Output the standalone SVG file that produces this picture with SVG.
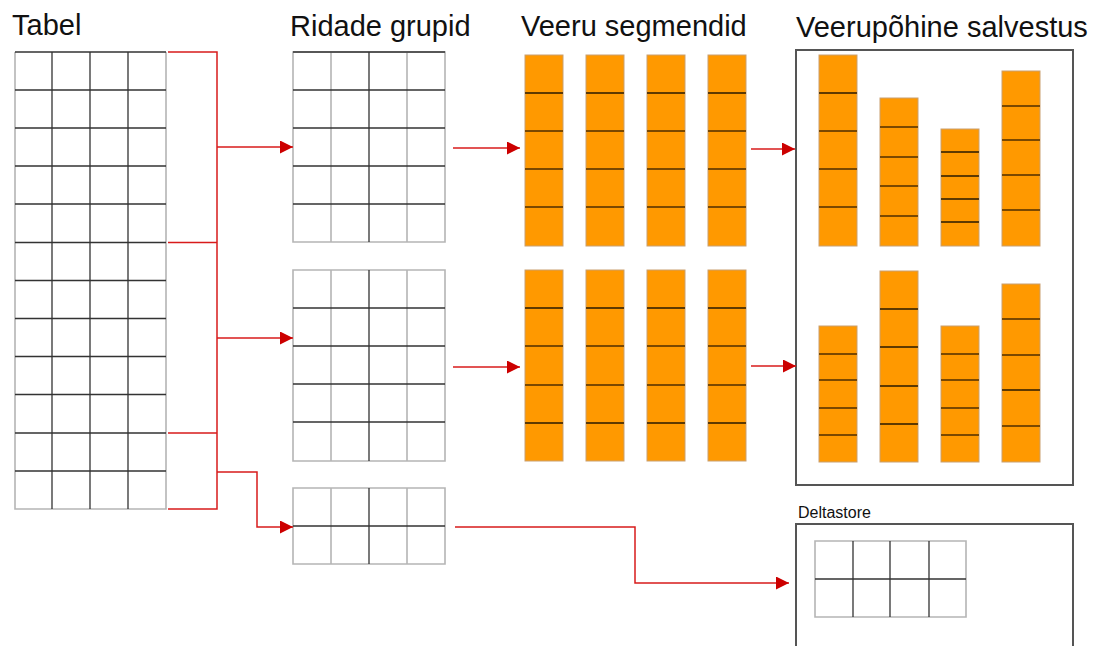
<svg xmlns="http://www.w3.org/2000/svg" width="1094" height="646" viewBox="0 0 1094 646">
  <style>
    .title { font-family: "Liberation Sans", Arial, sans-serif; font-size: 29px; fill: #111; }
    .small { font-family: "Liberation Sans", Arial, sans-serif; font-size: 16px; fill: #111; }
    .grid { fill: none; stroke: #333; stroke-width: 1.3; }
    .lite { fill: none; stroke: #b5b5b5; stroke-width: 1.6; }
    .seg { fill: #ff9900; stroke: #c9a070; stroke-width: 1; }
    .dv { stroke: #7a4800; stroke-width: 2.2; }
    .dk { stroke: #2a1a00; stroke-width: 1.7; }
    .box { fill: none; stroke: #555; stroke-width: 2; }
    .red { fill: none; stroke: #d81b1b; stroke-width: 1.5; }
    .arr { fill: none; stroke: #d81b1b; stroke-width: 1.5; marker-end: url(#head); }
  </style>
  <defs>
    <marker id="head" markerUnits="userSpaceOnUse" markerWidth="13" markerHeight="13" viewBox="0 0 13 13" refX="13" refY="6.5" orient="auto">
      <path d="M0,0 L13,6.5 L0,13 z" fill="#cc0000"/>
    </marker>
  </defs>

  <rect width="1094" height="646" fill="#ffffff"/>

  <!-- headings -->
  <text class="title" x="12" y="35">Tabel</text>
  <text class="title" x="290" y="36">Ridade grupid</text>
  <text class="title" x="521" y="36">Veeru segmendid</text>
  <text class="title" x="796" y="37">Veerupõhine salvestus</text>

  <!-- source table: 4 columns x 12 rows -->
  <g id="tabel">
    <path class="lite" d="M15,52 V509 H166 V52"/>
    <path class="grid" d="M52,52 V509 M90,52 V509 M128,52 V509"/>
    <path class="grid" d="M15,52 H166 M15,90 H166 M15,128 H166 M15,166 H166 M15,204 H166 M15,242.5 H166 M15,280.5 H166 M15,318.5 H166 M15,356.5 H166 M15,394.5 H166 M15,433 H166 M15,471 H166"/>
  </g>

  <!-- row group 1 -->
  <g id="rowgroup1">
    <path class="lite" d="M293,52 H445 V242 H293 Z M331,52 V242 M407,52 V242"/>
    <path class="grid" d="M369,52 V242 M293,52 H445 M293,90 H445 M293,128 H445 M293,166 H445 M293,204 H445"/>
  </g>

  <!-- row group 2 -->
  <g id="rowgroup2">
    <path class="lite" d="M293,270 H445 V461 H293 Z M331,270 V461 M407,270 V461"/>
    <path class="grid" d="M369,270 V461 M293,308 H445 M293,346 H445 M293,384 H445 M293,422 H445"/>
  </g>

  <!-- row group 3 (partial) -->
  <g id="rowgroup3">
    <path class="lite" d="M293,488 H445 V564 H293 Z M331,488 V564 M407,488 V564"/>
    <path class="grid" d="M369,488 V564 M293,526 H445"/>
  </g>

  <!-- column segments of row group 1 -->
  <g id="segments1">
    <rect class="seg" x="525" y="55" width="38" height="191"/>
    <rect class="seg" x="586" y="55" width="38" height="191"/>
    <rect class="seg" x="647" y="55" width="38" height="191"/>
    <rect class="seg" x="708" y="55" width="38" height="191"/>
    <path class="dk" d="M525,93 H563 M586,93 H624 M647,93 H685 M708,93 H746"/>
    <path class="dv" d="M525,131 H563 M586,131 H624 M647,131 H685 M708,131 H746 M525,169 H563 M586,169 H624 M647,169 H685 M708,169 H746 M525,207 H563 M586,207 H624 M647,207 H685 M708,207 H746"/>
  </g>

  <!-- column segments of row group 2 -->
  <g id="segments2">
    <rect class="seg" x="525" y="270" width="38" height="191"/>
    <rect class="seg" x="586" y="270" width="38" height="191"/>
    <rect class="seg" x="647" y="270" width="38" height="191"/>
    <rect class="seg" x="708" y="270" width="38" height="191"/>
    <path class="dk" d="M525,308 H563 M586,308 H624 M647,308 H685 M708,308 H746 M525,423 H563 M586,423 H624 M647,423 H685 M708,423 H746"/>
    <path class="dv" d="M525,346 H563 M586,346 H624 M647,346 H685 M708,346 H746 M525,385 H563 M586,385 H624 M647,385 H685 M708,385 H746"/>
  </g>

  <!-- columnstore -->
  <g id="columnstore">
    <rect class="box" x="796" y="50" width="277" height="435"/>
    <!-- compressed segments, upper row group -->
    <rect class="seg" x="819" y="55" width="38" height="191"/>
    <path class="dk" d="M819,93 H857"/>
    <path class="dv" d="M819,131 H857 M819,169 H857 M819,207 H857"/>
    <rect class="seg" x="880" y="98" width="38" height="148"/>
    <path class="dv" d="M880,127 H918 M880,157 H918 M880,186 H918 M880,216 H918"/>
    <rect class="seg" x="941" y="129" width="38" height="117"/>
    <path class="dk" d="M941,152 H979 M941,176 H979 M941,199 H979 M941,222 H979"/>
    <rect class="seg" x="1002" y="71" width="38" height="175"/>
    <path class="dv" d="M1002,106 H1040 M1002,140 H1040 M1002,175 H1040 M1002,210 H1040"/>
    <!-- compressed segments, lower row group -->
    <rect class="seg" x="819" y="326" width="38" height="136"/>
    <path class="dv" d="M819,354 H857 M819,380 H857 M819,408 H857 M819,435 H857"/>
    <rect class="seg" x="880" y="271" width="38" height="191"/>
    <path class="dk" d="M880,309 H918 M880,347 H918 M880,386 H918 M880,424 H918"/>
    <rect class="seg" x="941" y="326" width="38" height="136"/>
    <path class="dv" d="M941,354 H979 M941,380 H979 M941,408 H979 M941,435 H979"/>
    <rect class="seg" x="1002" y="284" width="38" height="178"/>
    <path class="dv" d="M1002,319 H1040 M1002,355 H1040 M1002,426 H1040"/>
    <path class="dk" d="M1002,390 H1040"/>
  </g>

  <!-- deltastore -->
  <g id="deltastore">
    <text class="small" x="798" y="518">Deltastore</text>
    <rect class="box" x="796" y="524" width="277" height="140"/>
    <path class="lite" d="M815,541 H966 V617 H815 Z"/>
    <path class="grid" d="M853,541 V617 M890,541 V617 M929,541 V617 M815,579 H966"/>
  </g>

  <!-- connectors -->
  <g id="connectors">
    <path class="red" d="M168,52 H217 V509 H168 M168,242.5 H217 M168,433 H217"/>
    <path class="arr" d="M217,147 H293"/>
    <path class="arr" d="M217,338 H293"/>
    <path class="arr" d="M217,472 H257 V527 H293"/>
    <path class="arr" d="M453,148 H520"/>
    <path class="arr" d="M453,367 H520"/>
    <path class="arr" d="M751,149 H795"/>
    <path class="arr" d="M751,366 H796"/>
    <path class="arr" d="M455,527 H635 V583 H789"/>
  </g>
</svg>
